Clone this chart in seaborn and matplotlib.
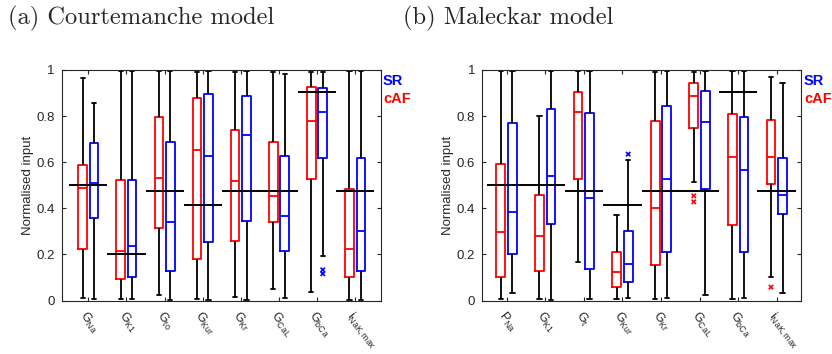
import numpy as np
import pandas as pd
import matplotlib
matplotlib.use("Agg")
import matplotlib.pyplot as plt
import seaborn as sns

# ---------------- data ----------------
labels_a = [r"$\mathrm{G_{Na}}$", r"$\mathrm{G_{K1}}$", r"$\mathrm{G_{to}}$", r"$\mathrm{G_{Kur}}$",
            r"$\mathrm{G_{Kr}}$", r"$\mathrm{G_{CaL}}$", r"$\mathrm{G_{bCa}}$", r"$\mathrm{i_{NaK,max}}$"]
labels_b = [r"$\mathrm{P_{Na}}$", r"$\mathrm{G_{K1}}$", r"$\mathrm{G_{t}}$", r"$\mathrm{G_{Kur}}$",
            r"$\mathrm{G_{Kr}}$", r"$\mathrm{G_{CaL}}$", r"$\mathrm{G_{bCa}}$", r"$\mathrm{i_{NaK,max}}$"]

# Courtemanche model: five-number summaries (whisker low, Q1, median, Q3, whisker high)
caf_lo_a = [0.010, 0.005, 0.022, 0.007, 0.014, 0.051, 0.036, 0.003]
caf_q1_a = [0.222, 0.093, 0.316, 0.181, 0.257, 0.342, 0.525, 0.104]
caf_md_a = [0.490, 0.216, 0.530, 0.651, 0.517, 0.455, 0.777, 0.222]
caf_q3_a = [0.586, 0.523, 0.794, 0.877, 0.738, 0.688, 0.925, 0.484]
caf_hi_a = [0.964, 0.997, 0.997, 0.993, 0.993, 0.993, 0.993, 0.997]
sr_lo_a = [0.005, 0.005, 0.003, 0.003, 0.003, 0.012, 0.191, 0.003]
sr_q1_a = [0.359, 0.102, 0.126, 0.254, 0.345, 0.213, 0.619, 0.129]
sr_md_a = [0.511, 0.238, 0.341, 0.625, 0.719, 0.367, 0.816, 0.303]
sr_q3_a = [0.682, 0.523, 0.688, 0.894, 0.888, 0.626, 0.922, 0.617]
sr_hi_a = [0.855, 0.997, 0.997, 0.996, 0.997, 0.983, 0.993, 0.997]
base_a = [0.500, 0.200, 0.475, 0.413, 0.475, 0.475, 0.903, 0.475]
out_a_group = ["SR", "SR"]
out_a_idx = [6, 6]
out_a_val = [0.133, 0.116]

# Maleckar model
caf_lo_b = [0.007, 0.007, 0.167, 0.007, 0.007, 0.513, 0.007, 0.104]
caf_q1_b = [0.104, 0.128, 0.525, 0.060, 0.152, 0.748, 0.326, 0.507]
caf_md_b = [0.299, 0.280, 0.816, 0.125, 0.401, 0.887, 0.623, 0.622]
caf_q3_b = [0.591, 0.458, 0.906, 0.210, 0.778, 0.945, 0.807, 0.783]
caf_hi_b = [0.997, 0.800, 0.997, 0.370, 0.993, 0.993, 0.995, 0.968]
sr_lo_b = [0.033, 0.003, 0.007, 0.010, 0.010, 0.022, 0.010, 0.033]
sr_q1_b = [0.200, 0.330, 0.138, 0.080, 0.210, 0.484, 0.209, 0.375]
sr_md_b = [0.385, 0.538, 0.446, 0.160, 0.528, 0.774, 0.568, 0.458]
sr_q3_b = [0.771, 0.830, 0.812, 0.300, 0.845, 0.910, 0.797, 0.620]
sr_hi_b = [0.997, 0.997, 0.997, 0.610, 0.996, 0.996, 0.995, 0.945]
base_b = [0.500, 0.500, 0.475, 0.413, 0.475, 0.475, 0.903, 0.475]
out_b_group = ["SR", "cAF", "cAF", "cAF"]
out_b_idx = [3, 5, 5, 7]
out_b_val = [0.635, 0.454, 0.428, 0.058]

groups = ["cAF", "SR"]
palette = {"cAF": "#ff0000", "SR": "#0000ff"}
dodge_off = {"cAF": -0.15, "SR": 0.15}


def long_frame(caf, sr):
    rows = []
    for g, stats in (("cAF", caf), ("SR", sr)):
        for i in range(len(stats[0])):
            for s in stats:
                rows.append({"param": i, "group": g, "value": s[i]})
    return pd.DataFrame(rows)


df_a = long_frame((caf_lo_a, caf_q1_a, caf_md_a, caf_q3_a, caf_hi_a),
                  (sr_lo_a, sr_q1_a, sr_md_a, sr_q3_a, sr_hi_a))
df_b = long_frame((caf_lo_b, caf_q1_b, caf_md_b, caf_q3_b, caf_hi_b),
                  (sr_lo_b, sr_q1_b, sr_md_b, sr_q3_b, sr_hi_b))

# ---------------- style ----------------
sns.set_style("ticks")
plt.rcParams["font.family"] = ["Liberation Sans", "DejaVu Sans"]
plt.rcParams["mathtext.fontset"] = "custom"
plt.rcParams["mathtext.rm"] = "Liberation Sans"
plt.rcParams["mathtext.it"] = "Liberation Sans:italic"
plt.rcParams["axes.linewidth"] = 0.8
plt.rcParams["axes.edgecolor"] = "#262626"

fig = plt.figure(figsize=(8.32, 3.54), dpi=100)
ax_a = fig.add_axes([61.7 / 832, 1 - 300.5 / 354, 319 / 832, 230.5 / 354])
ax_b = fig.add_axes([482.3 / 832, 1 - 300.5 / 354, 318.4 / 832, 230.5 / 354])


def draw(ax, df, labels, base, og, oi, ov, xlim):
    sns.boxplot(data=df, x="param", y="value", hue="group", hue_order=groups,
                palette=palette, fill=False, whis=(0, 100), width=0.6, gap=0.25,
                linewidth=1.3, whiskerprops={"color": "black"},
                capprops={"color": "black"}, legend=False, ax=ax)
    n = len(base)
    ax.hlines(base, np.arange(n) - 0.5, np.arange(n) + 0.5, color="black",
              linewidth=1.4, zorder=5)
    odf = pd.DataFrame({"x": [i + dodge_off[g] for g, i in zip(og, oi)],
                        "value": ov, "group": og})
    sns.scatterplot(data=odf, x="x", y="value", hue="group", palette=palette,
                    marker="x", s=10, linewidth=1.2, legend=False, ax=ax, zorder=6)
    ax.set_xlim(*xlim)
    ax.set_ylim(0, 1)
    ax.set_xticks(np.arange(n))
    ax.set_xticklabels(labels, rotation=-52, ha="left", va="top",
                       rotation_mode="anchor", fontsize=9, color="#262626")
    ax.set_yticks([0, 0.2, 0.4, 0.6, 0.8, 1.0])
    ax.set_yticklabels(["0", "0.2", "0.4", "0.6", "0.8", "1"], fontsize=9.5,
                       color="#262626")
    ax.tick_params(direction="in", top=True, right=True, length=3, width=0.8,
                   color="#262626")
    ax.tick_params(axis="y", pad=5)
    ax.tick_params(axis="x", pad=6)
    ax.set_xlabel("")
    ax.set_ylabel("Normalised input", fontsize=9.5, color="#262626", labelpad=2)
    for sp in ax.spines.values():
        sp.set_visible(True)


draw(ax_a, df_a, labels_a, base_a, out_a_group, out_a_idx, out_a_val, (-0.70, 7.67))
draw(ax_b, df_b, labels_b, base_b, out_b_group, out_b_idx, out_b_val, (-0.63, 7.62))

# panel titles
fig.text(8 / 832, 1 - 18 / 354, "(a) Courtemanche model", family="cmr10",
         fontsize=17.6, va="center", ha="left")
fig.text(403 / 832, 1 - 18 / 354, "(b) Maleckar model", family="cmr10",
         fontsize=17.6, va="center", ha="left")

# SR / cAF labels
for x0 in (383, 804):
    fig.text(x0 / 832, 1 - 81 / 354, "SR", color="#0000ff", fontweight="bold",
             fontsize=10.5, va="center", ha="left")
    fig.text(x0 / 832, 1 - 99 / 354, "cAF", color="#ff0000", fontweight="bold",
             fontsize=10.5, va="center", ha="left")

fig.savefig("out.png", dpi=100)
